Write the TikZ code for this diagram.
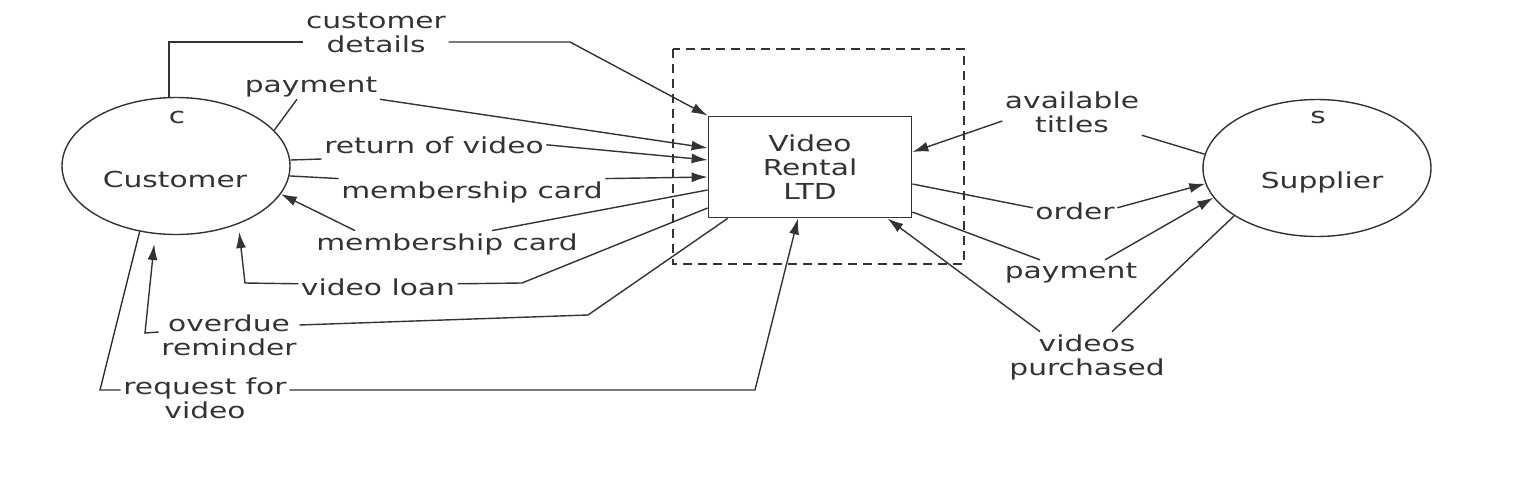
\documentclass[tikz,border=0pt]{standalone}
\usepackage{fontspec}
\setmainfont{DejaVu Sans}[FakeStretch=1.35]
\usetikzlibrary{arrows.meta,shapes.geometric}

\def\entitywd{228pt}
\def\entityht{137pt}

\begin{document}
\begin{tikzpicture}[x=1pt,y=-1pt,line width=1.4pt,black!80,
    font=\fontsize{22}{24}\selectfont]
    \tikzstyle{entity}=[ellipse,draw,minimum width=\entitywd,minimum height=\entityht,inner sep=0pt]
    \tikzstyle{process}=[rectangle,draw,line width=1.8pt,minimum width=203pt,minimum height=101pt,align=center]
    \tikzstyle{flow}=[inner sep=2pt,align=center]
    \tikzstyle{flowline}=[flow,anchor=base]
    \tikzstyle{dataflow}=[-{Latex[length=16pt,width=10pt]}]

    \useasboundingbox (0,0) rectangle (1530,482);

    % Draw the system boundary and the process
    \draw[dash pattern=on 9pt off 6pt,line width=1.1pt] (673,49) rectangle (964,264);
    \node[process] (box) at (810,167) {Video\\Rental\\LTD};

    % Draw the external entities
    \node[entity] (cust) at (176,166) {};
    \node[anchor=base] (custid) at (177,123) {c};
    \node[anchor=base] (custname) at (175,187) {Customer};
    \node[entity] (sup) at (1317,168) {};
    \node[anchor=base] (supid) at (1318,123) {s};
    \node[anchor=base] (supname) at (1322,188) {Supplier};

    % Flow labels on the customer side
    \node[flow] (cdet) at (376,33) {customer\\details};
    \node[flowline] (payL) at (311,92) {payment};
    \node[flowline] (retL) at (434,153) {return of video};
    \node[flowline] (memL1) at (472,198) {membership card};
    \node[flowline] (memL2) at (447,250) {membership card};
    \node[flowline] (loanL) at (378,295) {video loan};
    \node[flow] (overL) at (229,335) {overdue\\reminder};
    \node[flow] (reqL) at (205,398) {request for\\video};

    % Flow labels on the supplier side
    \node[flow] (availL) at (1072,112) {available\\titles};
    \node[flowline] (orderL) at (1075,219) {order};
    \node[flowline] (payR) at (1071,278) {payment};
    \node[flow] (vidsL) at (1087,357) {videos\\purchased};

    % Bend points of the routed flows
    \coordinate (cdup) at (169,42);
    \coordinate (cdbend) at (570,42);
    \coordinate (loanbend) at (245,283);
    \coordinate (loanmid) at (522,283);
    \coordinate (overbend) at (145,333);
    \coordinate (overmid) at (588,315);
    \coordinate (reqbend) at (100,390);
    \coordinate (reqmid) at (755,390);

    % Customer details
    \draw ([xshift=-7pt]cust.north) -- (cdup) -- ([yshift=-9pt]cdet.west);
    \draw[dataflow] ([yshift=-9pt]cdet.east) -- (cdbend) -- (box.north west);

    % Lead lines from the customer to its labels
    \draw (cust.20) -- ([xshift=-14pt]payL.south);
    \draw (cust.3) -- ([yshift=-6pt]retL.base west);
    \draw (cust.-5) -- (memL1.north west);

    % Connect the customer flows into the process
    \foreach \source/\shift in {payL.south east/19,retL.east/7,memL1.north east/-10}
        \draw[dataflow] (\source) -- ([yshift=\shift pt]box.west);

    % Flows back to the customer
    \draw ([yshift=-23pt]box.west) -- ([xshift=45pt]memL2.north);
    \draw[dataflow] ([xshift=-92pt]memL2.north) -- (cust.-15);
    \draw ([yshift=-41pt]box.west) -- (loanmid) -- ([yshift=3pt]loanL.east);
    \draw[dataflow,shorten >=8pt] ([yshift=3pt]loanL.west) -- (loanbend) -- (cust.-43);
    \draw ([xshift=20pt]box.south west) -- (overmid) -- ([yshift=10pt]overL.east);
    \draw[dataflow,shorten >=10pt] ([yshift=3pt]overL.west) -- (overbend) -- (cust.-107);

    % Request for video
    \draw (cust.-119) -- (reqbend) -- ([yshift=8pt]reqL.west);
    \draw[dataflow] ([yshift=8pt]reqL.east) -- (reqmid) -- ([xshift=-12pt]box.south);

    % Supplier flows
    \draw (sup.173) -- (availL.south east);
    \draw[dataflow] ([yshift=-9pt]availL.west) -- ([yshift=15pt]box.east);
    \draw ([yshift=-17pt]box.east) -- ([yshift=3pt]orderL.west);
    \draw[dataflow] ([yshift=3pt]orderL.east) -- (sup.188);
    \draw ([yshift=-45pt]box.east) -- ([xshift=-31pt]payR.north);
    \draw[dataflow] ([xshift=34pt]payR.north) -- (sup.196);
    \draw (sup.210) -- ([xshift=25pt]vidsL.north);
    \draw[dataflow] ([xshift=-47pt]vidsL.north) -- ([xshift=-25pt]box.south east);

\end{tikzpicture}
\end{document}
